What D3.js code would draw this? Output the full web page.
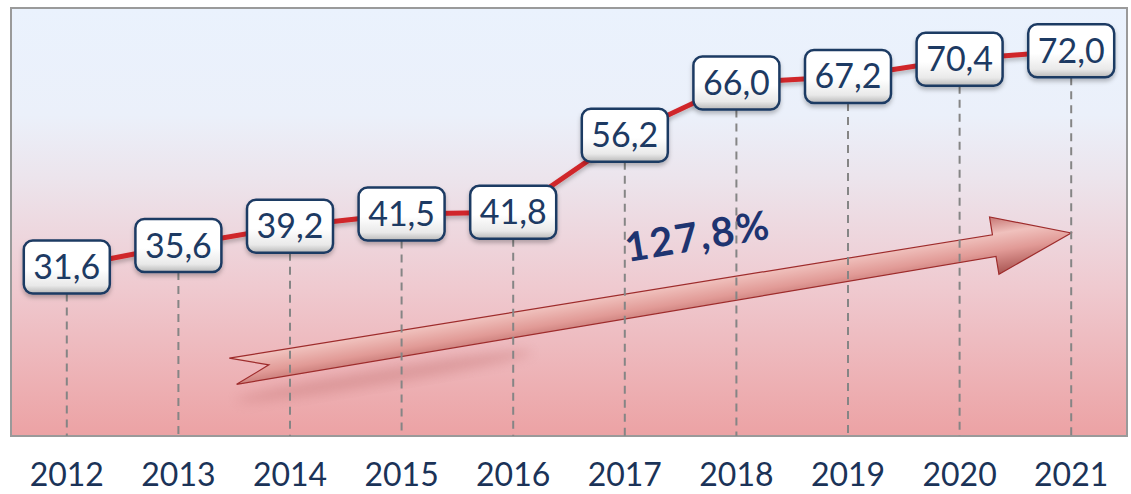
<!DOCTYPE html>
<html>
<head>
<meta charset="utf-8">
<script src="https://cdn.jsdelivr.net/npm/d3@7"></script>
<style>
  body { margin: 0; background: #fff; }
  svg { display: block; }
</style>
</head>
<body>
<script>
// data
const YEARS = ['2012', '2013', '2014', '2015', '2016', '2017', '2018', '2019', '2020', '2021']
const VALUES = [31.6, 35.6, 39.2, 41.5, 41.8, 56.2, 66.0, 67.2, 70.4, 72.0]
const Y_MAX = 80

const WIDTH = 1131
const HEIGHT = 494
const PLOT = { left: 11, top: 8, right: 1127, bottom: 436 }
const BOX_W = 86
const BOX_H = 53
const FONT = 'Lato, "Noto Sans", sans-serif'
const NAVY = '#1d3a63'

const fmt = v => v.toFixed(1).replace('.', ',')

const svg = d3.select('body').append('svg')
  .attr('width', WIDTH)
  .attr('height', HEIGHT)

const x = d3.scalePoint()
  .domain(YEARS)
  .range([PLOT.left, PLOT.right])
  .padding(0.5)

const y = d3.scaleLinear()
  .domain([0, Y_MAX])
  .range([PLOT.bottom, PLOT.top])

const defs = svg.append('defs')

// background gradient, light blue to pink
const bg = defs.append('linearGradient').attr('id', 'bg')
  .attr('x1', 0).attr('y1', 0).attr('x2', 0).attr('y2', 1)
bg.selectAll('stop')
  .data([[0, '#eaf2fd'], [0.25, '#ebf0fa'], [0.4, '#ece4ec'], [0.65, '#efcad0'], [1, '#eca2a4']])
  .enter().append('stop')
  .attr('offset', d => d[0])
  .attr('stop-color', d => d[1])

// box fill: white with grey bottom
const boxGrad = defs.append('linearGradient').attr('id', 'box')
  .attr('x1', 0).attr('y1', 0).attr('x2', 0).attr('y2', 1)
boxGrad.selectAll('stop')
  .data([[0, '#ffffff'], [0.55, '#ffffff'], [0.85, '#e9e9e9'], [1, '#b8b8b8']])
  .enter().append('stop')
  .attr('offset', d => d[0])
  .attr('stop-color', d => d[1])

// arrow fill
const arrowGrad = defs.append('linearGradient').attr('id', 'arrow')
  .attr('x1', 0).attr('y1', 0).attr('x2', 0).attr('y2', 1)
arrowGrad.selectAll('stop')
  .data([[0, '#c67673'], [0.3, '#f0c1bd'], [0.6, '#e19a96'], [1, '#a95552']])
  .enter().append('stop')
  .attr('offset', d => d[0])
  .attr('stop-color', d => d[1])

const blur = defs.append('filter').attr('id', 'blur')
  .attr('x', '-20%').attr('y', '-50%').attr('width', '140%').attr('height', '200%')
blur.append('feGaussianBlur').attr('stdDeviation', 6)

const shadow = defs.append('filter').attr('id', 'shadow')
  .attr('x', '-20%').attr('y', '-20%').attr('width', '140%').attr('height', '160%')
shadow.append('feDropShadow')
  .attr('dx', 0).attr('dy', 3).attr('stdDeviation', 2)
  .attr('flood-color', '#000').attr('flood-opacity', 0.25)

// plot frame
svg.append('rect')
  .attr('x', PLOT.left)
  .attr('y', PLOT.top)
  .attr('width', PLOT.right - PLOT.left)
  .attr('height', PLOT.bottom - PLOT.top)
  .attr('fill', 'url(#bg)')
  .attr('stroke', '#9a9a9a')
  .attr('stroke-width', 2)

// growth arrow from first to last year
const growth = VALUES[VALUES.length - 1] / VALUES[0] - 1
const tail = [x(YEARS[1]) + 53, 371]
const tip = [x(YEARS[YEARS.length - 1]), 233]
const len = Math.hypot(tip[0] - tail[0], tip[1] - tail[1])
const ang = Math.atan2(tip[1] - tail[1], tip[0] - tail[0]) * 180 / Math.PI
const HEAD = 78
const arrowPts = [
  [0, -13], [len - HEAD, -11], [len - HEAD, -29], [len, 0],
  [len - HEAD, 29], [len - HEAD, 11], [3, 14], [38, 0]
]

const arrowG = svg.append('g')
  .attr('transform', `translate(${tail[0]},${tail[1]}) rotate(${ang})`)

// soft shadow under the tail
arrowG.append('ellipse')
  .attr('cx', 150).attr('cy', 30)
  .attr('rx', 150).attr('ry', 8)
  .attr('fill', '#c77a7a')
  .attr('opacity', 0.45)
  .attr('filter', 'url(#blur)')

arrowG.append('path')
  .attr('d', d3.line()(arrowPts) + 'Z')
  .attr('fill', 'url(#arrow)')
  .attr('stroke', '#9e2c2c')
  .attr('stroke-width', 1.2)
  .attr('stroke-linejoin', 'miter')

// growth label
svg.append('text')
  .attr('transform', `translate(700,250) rotate(${ang})`)
  .attr('text-anchor', 'middle')
  .attr('font-family', FONT)
  .attr('font-weight', 'bold')
  .attr('font-size', 40)
  .attr('letter-spacing', 2)
  .attr('fill', '#1e3470')
  .text(fmt(growth * 100) + '%')

// dashed drop lines
svg.selectAll('.drop')
  .data(VALUES)
  .enter().append('line')
  .attr('class', 'drop')
  .attr('x1', (d, i) => x(YEARS[i]))
  .attr('x2', (d, i) => x(YEARS[i]))
  .attr('y1', d => y(d) + BOX_H / 2)
  .attr('y2', PLOT.bottom)
  .attr('stroke', '#858585')
  .attr('stroke-width', 2)
  .attr('stroke-dasharray', '8,6')

// red line
const line = d3.line()
  .x((d, i) => x(YEARS[i]))
  .y(d => y(d))

svg.append('path')
  .datum(VALUES)
  .attr('d', line)
  .attr('fill', 'none')
  .attr('stroke', '#d0262a')
  .attr('stroke-width', 5)
  .attr('filter', 'url(#shadow)')

// value boxes
const boxes = svg.selectAll('.box')
  .data(VALUES)
  .enter().append('g')
  .attr('class', 'box')
  .attr('transform', (d, i) => `translate(${x(YEARS[i])},${y(d)})`)

boxes.append('rect')
  .attr('x', -BOX_W / 2)
  .attr('y', -BOX_H / 2)
  .attr('width', BOX_W)
  .attr('height', BOX_H)
  .attr('rx', 9)
  .attr('fill', 'url(#box)')
  .attr('stroke', NAVY)
  .attr('stroke-width', 2.5)
  .attr('filter', 'url(#shadow)')

boxes.append('text')
  .attr('y', 12)
  .attr('text-anchor', 'middle')
  .attr('font-family', FONT)
  .attr('font-size', 34)
  .attr('fill', NAVY)
  .text(d => fmt(d))

// year labels
svg.selectAll('.year')
  .data(YEARS)
  .enter().append('text')
  .attr('class', 'year')
  .attr('x', d => x(d))
  .attr('y', 486)
  .attr('text-anchor', 'middle')
  .attr('font-family', FONT)
  .attr('font-size', 32)
  .attr('fill', '#1b3358')
  .text(d => d)
</script>
</body>
</html>
